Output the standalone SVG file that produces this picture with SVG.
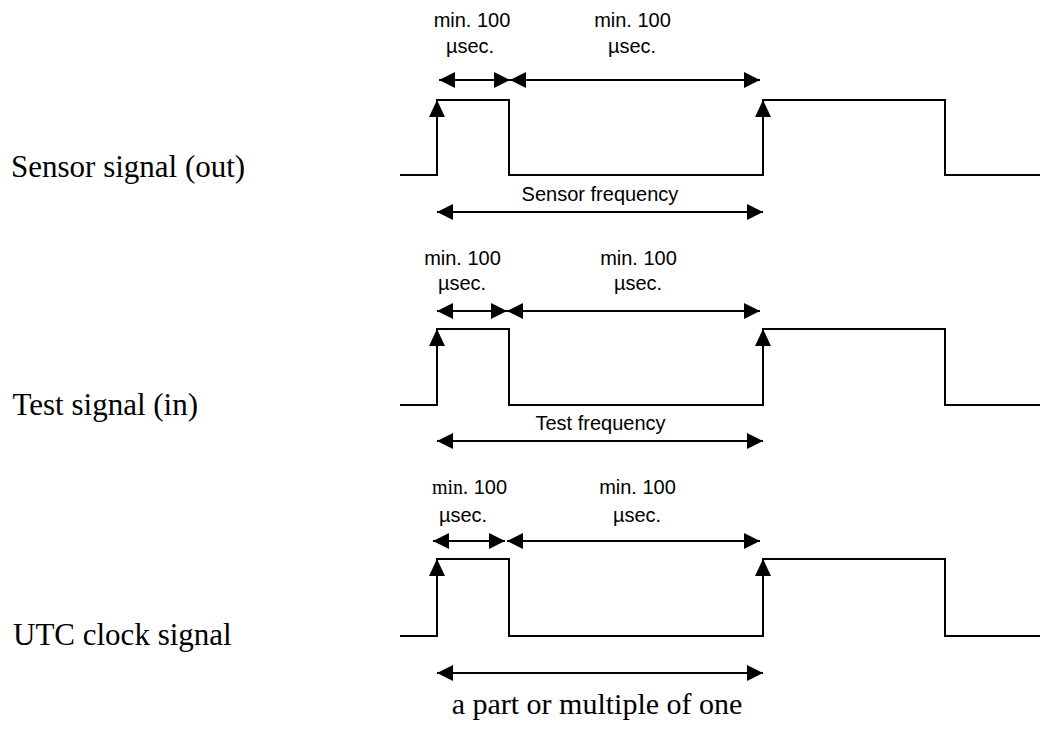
<svg xmlns="http://www.w3.org/2000/svg" width="1045" height="730" viewBox="0 0 1045 730">
<style>
.bg{fill:#fff}
.wave{fill:none;stroke:#000;stroke-width:2;stroke-linejoin:miter}
.dim{fill:none;stroke:#000;stroke-width:2;marker-start:url(#ah);marker-end:url(#ah)}
.lab{font-family:"Liberation Serif","Times New Roman",serif;font-size:31px;fill:#000}
.note{font-family:"Liberation Sans",Arial,sans-serif;font-size:20px;fill:#000;text-anchor:middle}
.serif{font-family:"Liberation Serif","Times New Roman",serif}
.cap{font-family:"Liberation Serif","Times New Roman",serif;font-size:30px;fill:#000;text-anchor:middle}
.head{fill:#000}
</style>
<defs>
<marker id="ah" viewBox="0 0 16 16" refX="16" refY="8" markerWidth="16" markerHeight="16" markerUnits="userSpaceOnUse" orient="auto-start-reverse">
<path d="M0,0 L16,8 L0,16 Z" fill="#000"/>
</marker>
<path id="up" d="M0,0 L8,17 L-8,17 Z"/>
</defs>
<rect class="bg" x="0" y="0" width="1045" height="730"/>

<g id="sensor-signal">
<text class="lab" x="11" y="176.5">Sensor signal (out)</text>
<polyline class="wave" points="400,175 437,175 437,100 509,100 509,175 763,175 763,100 945,100 945,175 1040,175"/>
<use href="#up" class="head" x="437" y="100"/>
<use href="#up" class="head" x="763" y="100"/>
<text class="note" x="472" y="27">min. 100</text>
<text class="note" x="470" y="52.5">µsec.</text>
<text class="note" x="632.5" y="27">min. 100</text>
<text class="note" x="632" y="52.5">µsec.</text>
<text class="note" x="600" y="201">Sensor frequency</text>
</g>

<g id="test-signal">
<text class="lab" x="12.5" y="415">Test signal (in)</text>
<polyline class="wave" points="400,405 437,405 437,329 509,329 509,405 763,405 763,329 945,329 945,405 1040,405"/>
<use href="#up" class="head" x="437" y="329"/>
<use href="#up" class="head" x="763" y="329"/>
<text class="note" x="462.5" y="265">min. 100</text>
<text class="note" x="462" y="290">µsec.</text>
<text class="note" x="638.5" y="265">min. 100</text>
<text class="note" x="638" y="290">µsec.</text>
<text class="note" x="600.5" y="430">Test frequency</text>
</g>

<g id="utc-clock-signal">
<text class="lab" x="13" y="645">UTC clock signal</text>
<polyline class="wave" points="400,636 437,636 437,559 509,559 509,636 763,636 763,559 945,559 945,636 1040,636"/>
<use href="#up" class="head" x="437" y="559"/>
<use href="#up" class="head" x="763" y="559"/>
<text class="note" x="469.5" y="494"><tspan class="serif">min.</tspan> 100</text>
<text class="note" x="463" y="521.5">µsec.</text>
<text class="note" x="637.5" y="494">min. 100</text>
<text class="note" x="637" y="521.5">µsec.</text>
<text class="cap" x="597" y="714">a part or multiple of one</text>
</g>

<g id="connectors">
<line class="dim" x1="439" y1="80" x2="510" y2="80"/>
<line class="dim" x1="510" y1="80" x2="760" y2="80"/>
<line class="dim" x1="437" y1="212" x2="763" y2="212"/>
<line class="dim" x1="437" y1="311" x2="507" y2="311"/>
<line class="dim" x1="507" y1="311" x2="760" y2="311"/>
<line class="dim" x1="437" y1="441" x2="763" y2="441"/>
<line class="dim" x1="433" y1="541" x2="505" y2="541"/>
<line class="dim" x1="507" y1="541" x2="760" y2="541"/>
<line class="dim" x1="437" y1="673" x2="763" y2="673"/>
</g>
</svg>
